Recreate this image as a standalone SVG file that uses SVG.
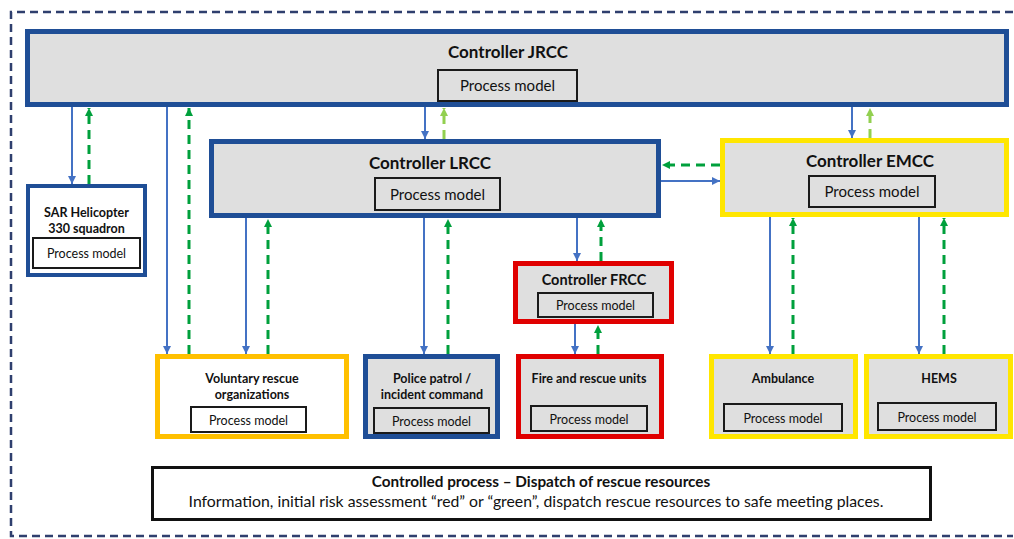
<svg xmlns="http://www.w3.org/2000/svg" width="1014" height="539" viewBox="0 0 1014 539">
<style>
text{font-family:Lato,"Liberation Sans",sans-serif;fill:#111;text-anchor:middle}
.t{font-weight:bold}
.box{fill:#dfdfdf;stroke-width:5}
.blue{stroke:#1f4e96}
.yel{stroke:#ffe600}
.org{stroke:#ffc000}
.red{stroke:#e00000}
.pm{fill:#dfdfdf;stroke:#1a1a1a;stroke-width:2}
.b{stroke:#4472c4;stroke-width:2;fill:none;marker-end:url(#ab)}
.g{stroke:#00a03c;stroke-width:3;fill:none;stroke-dasharray:9 6;marker-end:url(#ag)}
.lg{stroke:#92d050;stroke-width:3;fill:none;stroke-dasharray:9 6;marker-end:url(#alg)}
</style>
<defs>
<marker id="ab" markerUnits="userSpaceOnUse" markerWidth="10" markerHeight="10" refX="8" refY="4" orient="auto"><path d="M0,0 L8,4 L0,8 z" fill="#4472c4"/></marker>
<marker id="ag" markerUnits="userSpaceOnUse" markerWidth="10" markerHeight="10" refX="8" refY="4" orient="auto"><path d="M0,0 L8,4 L0,8 z" fill="#00a03c"/></marker>
<marker id="alg" markerUnits="userSpaceOnUse" markerWidth="10" markerHeight="10" refX="8" refY="4" orient="auto"><path d="M0,0 L8,4 L0,8 z" fill="#92d050"/></marker>
</defs>
<rect width="1014" height="539" fill="#fff"/>
<path d="M1013,12 H11 V536 H1013" fill="none" stroke="#2f3f6e" stroke-width="2.5" stroke-dasharray="8 5"/>

<g id="connectors">
<path class="b" d="M72,107 V184"/>
<path class="g" d="M89,184 V108"/>
<path class="b" d="M167,107 V354"/>
<path class="g" d="M189,354 V108"/>
<path class="b" d="M425,107 V139"/>
<path class="lg" d="M444,139 V108"/>
<path class="b" d="M852,107 V138"/>
<path class="lg" d="M870,138 V108"/>
<path class="g" d="M720,165 H662"/>
<path class="b" d="M661,181 H720"/>
<path class="b" d="M246,218 V354"/>
<path class="g" d="M268,354 V219"/>
<path class="b" d="M424,218 V354"/>
<path class="g" d="M448,354 V219"/>
<path class="b" d="M577,218 V261"/>
<path class="g" d="M601,261 V219"/>
<path class="b" d="M575,324 V354"/>
<path class="g" d="M598,354 V325"/>
<path class="b" d="M770,217 V354"/>
<path class="g" d="M793,354 V218"/>
<path class="b" d="M919,217 V354"/>
<path class="g" d="M944,354 V218"/>
</g>

<g id="jrcc">
<rect class="box blue" x="27.5" y="31.5" width="979" height="73"/>
<text class="t" x="508" y="58" font-size="17">Controller JRCC</text>
<rect class="pm" x="438" y="70" width="139" height="31"/>
<text x="507.5" y="91" font-size="15">Process model</text>
</g>

<g id="lrcc">
<rect class="box blue" x="211.5" y="141.5" width="447" height="74"/>
<text class="t" x="430" y="169" font-size="17">Controller LRCC</text>
<rect class="pm" x="375" y="178" width="125" height="32"/>
<text x="437.5" y="200" font-size="15">Process model</text>
</g>

<g id="emcc">
<rect class="box yel" x="722.5" y="140.5" width="284" height="74"/>
<text class="t" x="870" y="167" font-size="17">Controller EMCC</text>
<rect class="pm" x="809" y="176" width="126" height="31"/>
<text x="872" y="197" font-size="15">Process model</text>
</g>

<g id="sar">
<rect x="28" y="186" width="117" height="89" fill="#fff" stroke="#1f4e96" stroke-width="4"/>
<text class="t" x="86.5" y="217" font-size="12.5">SAR Helicopter</text>
<text class="t" x="86.5" y="233" font-size="12.5">330 squadron</text>
<rect class="pm" x="33" y="238" width="107" height="30" style="fill:#fff"/>
<text x="86.5" y="258" font-size="12.5">Process model</text>
</g>

<g id="frcc">
<rect class="box red" x="515.5" y="263.5" width="156" height="58"/>
<text class="t" x="594" y="285" font-size="14.5">Controller FRCC</text>
<rect class="pm" x="538" y="293" width="115" height="24"/>
<text x="595.5" y="310" font-size="12.5">Process model</text>
</g>

<g id="voluntary">
<rect class="box org" x="157.5" y="356.5" width="189" height="80" style="fill:#fff"/>
<text class="t" x="252" y="383" font-size="12.5">Voluntary rescue</text>
<text class="t" x="252" y="399" font-size="12.5">organizations</text>
<rect class="pm" x="191" y="407" width="115" height="25" style="fill:#fff"/>
<text x="248.5" y="425" font-size="12.5">Process model</text>
</g>

<g id="police">
<rect class="box blue" x="365.5" y="356.5" width="132" height="80"/>
<text class="t" x="432" y="383" font-size="12.5">Police patrol /</text>
<text class="t" x="432" y="399" font-size="12.5">incident command</text>
<rect class="pm" x="374" y="408" width="115" height="25"/>
<text x="431.5" y="426" font-size="12.5">Process model</text>
</g>

<g id="fire">
<rect class="box red" x="518.5" y="356.5" width="143" height="80"/>
<text class="t" x="589" y="383" font-size="12.5">Fire and rescue units</text>
<rect class="pm" x="531" y="406" width="116" height="25"/>
<text x="589" y="424" font-size="12.5">Process model</text>
</g>

<g id="ambulance">
<rect class="box yel" x="711.5" y="356.5" width="144" height="80"/>
<text class="t" x="783" y="383" font-size="12.5">Ambulance</text>
<rect class="pm" x="724" y="404" width="118" height="27"/>
<text x="783" y="423" font-size="12.5">Process model</text>
</g>

<g id="hems">
<rect class="box yel" x="866.5" y="356.5" width="144" height="80"/>
<text class="t" x="939" y="383" font-size="12.5">HEMS</text>
<rect class="pm" x="878" y="403" width="118" height="27"/>
<text x="937" y="422" font-size="12.5">Process model</text>
</g>

<g id="process">
<rect x="152.5" y="467.5" width="778" height="52" fill="#fff" stroke="#111" stroke-width="3"/>
<text class="t" x="541" y="487" font-size="15.3">Controlled process – Dispatch of rescue resources</text>
<text x="536" y="507" font-size="15.8">Information, initial risk assessment “red” or “green”, dispatch rescue resources to safe meeting places.</text>
</g>
</svg>
